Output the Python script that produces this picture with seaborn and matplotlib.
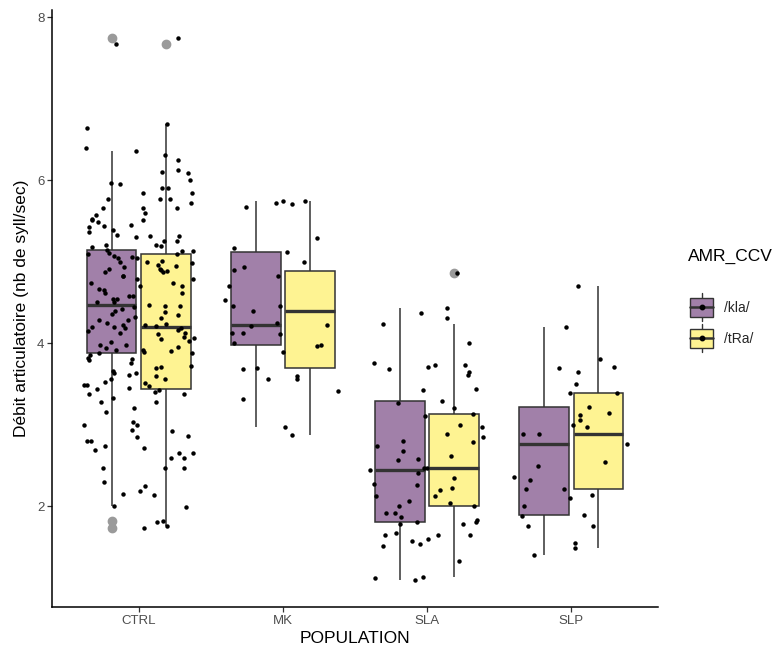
import matplotlib
matplotlib.use("Agg")
import matplotlib.pyplot as plt
import seaborn as sns
import pandas as pd
import numpy as np
from matplotlib.patches import Patch, Rectangle
from matplotlib.lines import Line2D
from matplotlib.legend_handler import HandlerBase

# categories
populations = ["CTRL", "MK", "SLA", "SLP"]
groups = ["/kla/", "/tRa/"]

# values (articulation rate, syll/sec)
ctrl_kla = [1.73, 1.82, 2.00, 2.19, 2.47, 2.59, 2.69, 2.74, 2.80, 2.93, 2.99, 3.20,
            3.28, 3.33, 3.43, 3.47, 3.49, 3.51, 3.56, 3.61, 3.63, 3.71, 3.80, 3.88,
            3.89, 3.90, 3.92, 3.94, 3.98, 4.02, 4.06, 4.11, 4.13, 4.16, 4.19, 4.20,
            4.21, 4.22, 4.22, 4.25, 4.28, 4.32, 4.36, 4.40, 4.44, 4.46, 4.47, 4.50,
            4.54, 4.58, 4.62, 4.65, 4.70, 4.74, 4.79, 4.83, 4.87, 4.89, 4.90, 4.91,
            4.94, 4.96, 5.00, 5.00, 5.04, 5.06, 5.09, 5.11, 5.13, 5.14, 5.19, 5.21,
            5.25, 5.30, 5.32, 5.37, 5.43, 5.44, 5.49, 5.51, 5.57, 5.60, 5.66, 5.72,
            5.77, 5.84, 5.91, 5.96, 6.09, 6.13, 6.31, 6.36, 7.75]
ctrl_tra = [1.75, 1.80, 1.99, 2.13, 2.15, 2.25, 2.30, 2.47, 2.47, 2.59, 2.65, 2.65,
            2.71, 2.80, 2.85, 2.86, 2.92, 3.00, 3.03, 3.16, 3.28, 3.37, 3.38, 3.40,
            3.44, 3.45, 3.49, 3.52, 3.56, 3.60, 3.63, 3.66, 3.70, 3.72, 3.76, 3.79,
            3.82, 3.85, 3.88, 3.91, 3.95, 3.98, 4.01, 4.05, 4.08, 4.12, 4.15, 4.18,
            4.20, 4.24, 4.28, 4.31, 4.35, 4.38, 4.42, 4.46, 4.50, 4.54, 4.58, 4.62,
            4.66, 4.70, 4.74, 4.79, 4.83, 4.87, 4.91, 4.95, 4.98, 5.01, 5.04, 5.07,
            5.09, 5.13, 5.18, 5.20, 5.25, 5.32, 5.33, 5.39, 5.45, 5.51, 5.53, 5.66,
            5.66, 5.77, 5.77, 5.84, 5.91, 5.95, 6.00, 6.10, 6.25, 6.40, 6.64, 6.69,
            7.67]
mk_kla = [2.97, 3.31, 3.41, 3.89, 3.98, 4.00, 4.11, 4.13, 4.22, 4.25, 4.45, 4.90,
          5.12, 5.17, 5.67, 5.72, 5.74]
mk_tra = [2.87, 3.56, 3.56, 3.60, 3.68, 3.70, 3.97, 4.13, 4.21, 4.39, 4.45, 4.53,
          4.70, 4.82, 4.94, 4.99, 5.29, 5.71, 5.75]
sla_kla = [1.09, 1.12, 1.53, 1.57, 1.64, 1.64, 1.67, 1.78, 1.78, 1.80, 1.83, 1.87,
           1.91, 2.04, 2.12, 2.20, 2.27, 2.40, 2.44, 2.57, 2.61, 2.74, 2.80, 2.85,
           2.97, 3.11, 3.20, 3.29, 3.42, 3.61, 3.68, 3.73, 3.75, 4.00, 4.31, 4.37,
           4.43]
sla_tra = [1.13, 1.32, 1.51, 1.59, 1.64, 1.81, 1.91, 2.00, 2.00, 2.06, 2.12, 2.22,
           2.26, 2.34, 2.47, 2.47, 2.58, 2.68, 2.78, 2.89, 3.00, 3.13, 3.26, 3.44,
           3.64, 3.71, 3.73, 4.23, 4.86]
slp_kla = [1.40, 1.55, 1.76, 1.88, 1.89, 2.10, 2.14, 2.54, 2.76, 2.88, 2.97, 3.12,
           3.21, 3.50, 3.65, 3.71, 4.20]
slp_tra = [1.48, 1.76, 2.00, 2.21, 2.21, 2.32, 2.36, 2.49, 2.88, 2.99, 3.06, 3.14,
           3.39, 3.39, 3.69, 3.80, 4.70]

series = {
    ("CTRL", "/kla/"): ctrl_kla, ("CTRL", "/tRa/"): ctrl_tra,
    ("MK", "/kla/"): mk_kla, ("MK", "/tRa/"): mk_tra,
    ("SLA", "/kla/"): sla_kla, ("SLA", "/tRa/"): sla_tra,
    ("SLP", "/kla/"): slp_kla, ("SLP", "/tRa/"): slp_tra,
}
rows = []
for (pop, grp), vals in series.items():
    for v in vals:
        rows.append({"POPULATION": pop, "AMR_CCV": grp, "debit": v})
df = pd.DataFrame(rows)

purple = "#A180A9"
yellow = "#FEF392"
edge = "#333333"

sns.set_theme(style="white")
plt.rcParams["font.family"] = ["Liberation Sans", "DejaVu Sans"]

fig = plt.figure(figsize=(7.81, 6.53), dpi=100)
ax = fig.add_axes([0.0666, 0.0704, 0.7759, 0.9143])

sns.boxplot(data=df, x="POPULATION", y="debit", hue="AMR_CCV",
            order=populations, hue_order=groups, palette=[purple, yellow],
            width=0.75, gap=0.08, linecolor=edge, linewidth=1.1,
            showcaps=False, whis=1.5, saturation=1,
            flierprops=dict(marker="o", markerfacecolor="#9A9A9A",
                            markeredgecolor="#9A9A9A", markersize=6),
            medianprops=dict(linewidth=2.4, color=edge),
            legend=False, ax=ax)

# jittered raw points over the whole category width
np.random.seed(3)
sns.stripplot(data=df, x="POPULATION", y="debit", order=populations,
              color="black", size=3.2, jitter=0.4, dodge=False,
              linewidth=0, ax=ax)

ax.set_ylim(0.76, 8.09)
ax.set_xlim(-0.6, 3.6)
ax.set_yticks([2, 4, 6, 8])
ax.set_xlabel("POPULATION", fontsize=12.5, color="black", labelpad=3)
ax.set_ylabel("Débit articulatoire (nb de syll/sec)", fontsize=12.5,
              color="black", labelpad=6)
ax.tick_params(axis="both", length=3.5, width=0.9, color=edge,
               labelsize=9.5, labelcolor="#4D4D4D", bottom=True, left=True, pad=2)
for side in ["top", "right"]:
    ax.spines[side].set_visible(False)
for side in ["left", "bottom"]:
    ax.spines[side].set_color("black")
    ax.spines[side].set_linewidth(1.1)


class BoxKey(HandlerBase):
    # little boxplot glyph like ggplot's legend key
    def create_artists(self, legend, orig, xd, yd, w, h, fs, trans):
        x0, y0 = -xd, -yd
        cx = x0 + w / 2
        cy = y0 + h / 2
        whisk = Line2D([cx, cx], [y0 - 0.15 * h, y0 + 1.15 * h], color=edge,
                       lw=1, transform=trans)
        box = Rectangle((x0, y0 + 0.05 * h), w, 0.9 * h,
                        facecolor=orig.get_facecolor(), edgecolor=edge,
                        lw=1, transform=trans)
        med = Line2D([x0, x0 + w], [cy, cy], color=edge, lw=1.8, transform=trans)
        dot = Line2D([cx], [cy], marker="o", ms=3.2, color="black",
                     linestyle="none", transform=trans)
        return [whisk, box, med, dot]


fig.text(688 / 781, 1 - 256 / 653, "AMR_CCV", fontsize=12.5, color="black",
         ha="left", va="center")
handles = [Patch(facecolor=purple), Patch(facecolor=yellow)]
fig.legend(handles, groups, loc="upper left",
           bbox_to_anchor=(0.868, 0.565), frameon=False,
           handler_map={Patch: BoxKey()}, handlelength=1.6, handleheight=2.0,
           handletextpad=0.8, labelspacing=0.68, fontsize=10)

fig.savefig("out.png", dpi=100)
